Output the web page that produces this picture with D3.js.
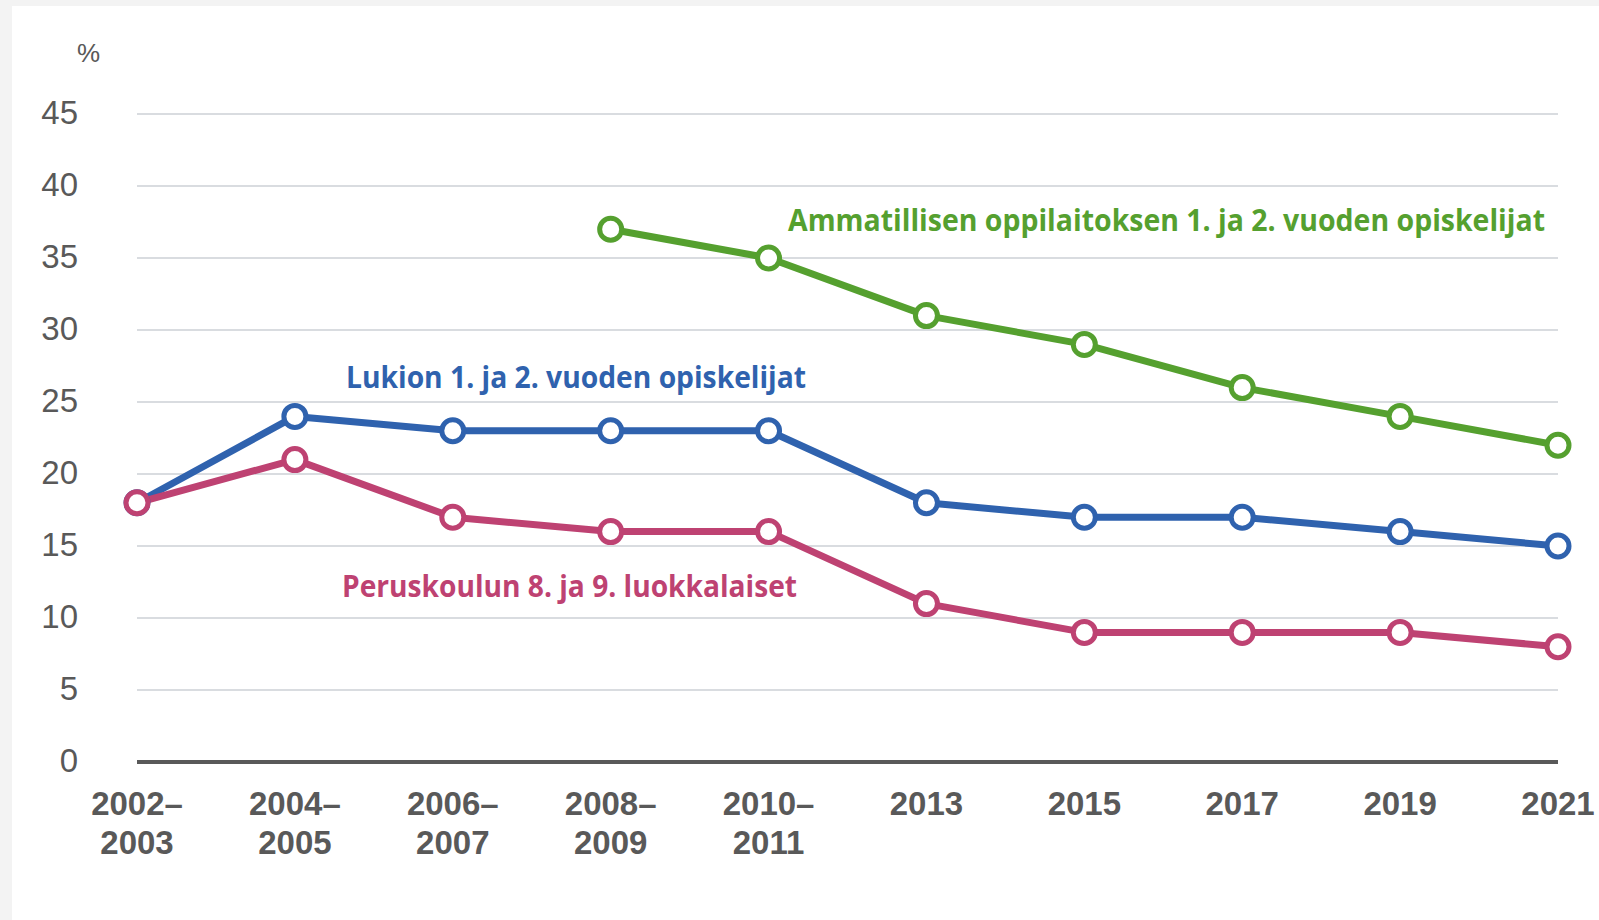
<!DOCTYPE html>
<html>
<head>
<meta charset="utf-8">
<script src="https://cdn.jsdelivr.net/npm/d3@7"></script>
<style>
  body { margin: 0; background: #f3f3f3; }
  svg { display: block; }
</style>
</head>
<body>
<div id="chart"></div>
<script>
// categories (two-line labels split with \n)
var periods = ["2002–\n2003", "2004–\n2005", "2006–\n2007", "2008–\n2009", "2010–\n2011",
  "2013", "2015", "2017", "2019", "2021"];
var yTicks = [0, 5, 10, 15, 20, 25, 30, 35, 40, 45];

var peruskoulu = [18, 21, 17, 16, 16, 11, 9, 9, 9, 8];
var lukio = [18, 24, 23, 23, 23, 18, 17, 17, 16, 15];
var ammatillinen = [null, null, null, 37, 35, 31, 29, 26, 24, 22];

var labelPeruskoulu = "Peruskoulun 8. ja 9. luokkalaiset";
var labelLukio = "Lukion 1. ja 2. vuoden opiskelijat";
var labelAmmatillinen = "Ammatillisen oppilaitoksen 1. ja 2. vuoden opiskelijat";

var width = 1599, height = 920;

var svg = d3.select("#chart").append("svg")
  .attr("width", width)
  .attr("height", height);

// white panel
svg.append("rect")
  .attr("x", 12).attr("y", 6)
  .attr("width", width - 12).attr("height", height - 6)
  .attr("fill", "#ffffff");

var x = d3.scalePoint()
  .domain(periods)
  .range([137, 1558]);

var y = d3.scaleLinear()
  .domain([0, 45])
  .range([762, 114]);

// grid lines
svg.append("g")
  .selectAll("line")
  .data(yTicks.filter(function (d) { return d > 0; }))
  .enter().append("line")
  .attr("x1", 137).attr("x2", 1558)
  .attr("y1", function (d) { return y(d); })
  .attr("y2", function (d) { return y(d); })
  .attr("stroke", "#d9dce0")
  .attr("stroke-width", 2);

// zero line
svg.append("line")
  .attr("x1", 137).attr("x2", 1558)
  .attr("y1", y(0)).attr("y2", y(0))
  .attr("stroke", "#595959")
  .attr("stroke-width", 4);

// y tick labels
svg.append("g")
  .selectAll("text")
  .data(yTicks)
  .enter().append("text")
  .attr("x", 78)
  .attr("y", function (d) { return y(d); })
  .attr("dy", "0.29em")
  .attr("text-anchor", "end")
  .attr("font-family", "'Liberation Sans', Arial, sans-serif")
  .attr("font-size", 33)
  .attr("fill", "#595959")
  .text(function (d) { return d; });

svg.append("text")
  .attr("x", 77).attr("y", 62)
  .attr("font-family", "'Liberation Sans', Arial, sans-serif")
  .attr("font-size", 26)
  .attr("fill", "#595959")
  .text("%");

// x tick labels
var xl = svg.append("g")
  .selectAll("g")
  .data(periods)
  .enter().append("g")
  .attr("transform", function (d) { return "translate(" + x(d) + ",0)"; });

xl.each(function (d) {
  var lines = d.split("\n");
  var g = d3.select(this);
  lines.forEach(function (t, i) {
    g.append("text")
      .attr("x", 0)
      .attr("y", 815 + i * 39)
      .attr("text-anchor", "middle")
      .attr("font-family", "'Liberation Sans', Arial, sans-serif")
      .attr("font-weight", "bold")
      .attr("font-size", 33)
      .attr("fill", "#595959")
      .text(t);
  });
});

var series = [
  { name: "ammatillinen", values: ammatillinen, color: "#55a02f" },
  { name: "lukio", values: lukio, color: "#2f62ae" },
  { name: "peruskoulu", values: peruskoulu, color: "#be4272" }
];

var line = d3.line()
  .defined(function (d) { return d != null; })
  .x(function (d, i) { return x(periods[i]); })
  .y(function (d) { return y(d); });

series.forEach(function (s) {
  svg.append("path")
    .datum(s.values)
    .attr("fill", "none")
    .attr("stroke", s.color)
    .attr("stroke-width", 7)
    .attr("stroke-linejoin", "round")
    .attr("d", line);
});

series.forEach(function (s) {
  svg.append("g")
    .selectAll("circle")
    .data(s.values.map(function (v, i) { return { v: v, p: periods[i] }; })
      .filter(function (d) { return d.v != null; }))
    .enter().append("circle")
    .attr("cx", function (d) { return x(d.p); })
    .attr("cy", function (d) { return y(d.v); })
    .attr("r", 11)
    .attr("fill", "#ffffff")
    .attr("stroke", s.color)
    .attr("stroke-width", 5);
});

// series labels
var labels = [
  { text: labelAmmatillinen, x: 788, y: 231, w: 757, color: "#55a02f" },
  { text: labelLukio, x: 346, y: 388, w: 460, color: "#2f62ae" },
  { text: labelPeruskoulu, x: 342, y: 597, w: 455, color: "#be4272" }
];

svg.append("g")
  .selectAll("text")
  .data(labels)
  .enter().append("text")
  .attr("x", function (d) { return d.x; })
  .attr("y", function (d) { return d.y; })
  .attr("textLength", function (d) { return d.w; })
  .attr("lengthAdjust", "spacingAndGlyphs")
  .attr("font-family", "'Open Sans', sans-serif")
  .attr("font-weight", "bold")
  .attr("font-size", 30)
  .attr("fill", function (d) { return d.color; })
  .text(function (d) { return d.text; });
</script>
</body>
</html>
